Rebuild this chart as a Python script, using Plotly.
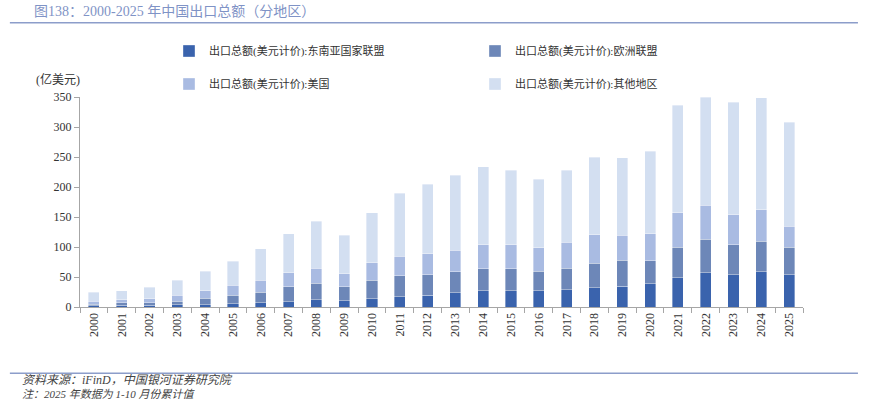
import plotly.graph_objects as go

years = [str(y) for y in range(2000, 2026)]
asean = [1.7, 2.8, 2.8, 3.4, 3.4, 5.6, 7.3, 9.0, 12.3, 10.3, 13.4, 16.7, 20.0, 24.0, 26.7, 26.7, 26.7, 28.4, 32.3, 35.0, 38.4, 48.4, 56.7, 53.4, 59.0, 53.4]
eu = [2.8, 3.9, 3.9, 6.6, 11.6, 14.4, 17.7, 24.4, 27.7, 23.1, 31.6, 35.0, 33.4, 34.4, 36.7, 36.7, 33.3, 36.6, 41.0, 43.3, 38.3, 51.6, 56.1, 50.0, 51.0, 46.6]
usa = [5.5, 5.0, 7.3, 9.5, 11.7, 16.0, 20.0, 23.3, 25.0, 22.2, 28.4, 33.3, 35.0, 36.6, 40.0, 40.0, 39.0, 42.8, 47.3, 41.7, 45.5, 56.7, 57.2, 50.6, 51.7, 35.0]
other = [15.0, 15.6, 18.8, 25.0, 32.8, 40.0, 51.7, 65.0, 77.8, 64.4, 83.6, 104.5, 116.1, 125.0, 130.0, 124.6, 114.0, 120.2, 128.9, 129.0, 137.3, 179.3, 180.0, 187.0, 187.3, 172.8]

names = ["出口总额(美元计价):东南亚国家联盟", "出口总额(美元计价):欧洲联盟",
         "出口总额(美元计价):美国", "出口总额(美元计价):其他地区"]
colors = ["#3a63ad", "#6d87b8", "#a9bbe2", "#d3dff1"]
legend_ids = ["legend", "legend2", "legend3", "legend4"]
W, H = 872, 402
legend_pos = [(169, 51), (475, 51), (169, 84), (475, 84)]

fig = go.Figure()
for vals, nm, c, lg in zip([asean, eu, usa, other], names, colors, legend_ids):
    fig.add_trace(go.Bar(x=years, y=vals, name=nm,
                         marker=dict(color=c, line=dict(color="rgba(255,255,255,0.6)", width=0.6)),
                         legend=lg))

font_main = "Liberation Serif, Noto Sans CJK SC, serif"
layout_legends = {}
for lg, (px, py) in zip(legend_ids, legend_pos):
    layout_legends[lg] = dict(xref="container", yref="container", x=px / W, y=1 - py / H,
                              xanchor="left", yanchor="middle", orientation="h",
                              font=dict(size=11, color="#333333", family=font_main),
                              itemwidth=30, bgcolor="rgba(0,0,0,0)")

fig.update_layout(
    width=W, height=H,
    barmode="stack", bargap=0.6,
    plot_bgcolor="white", paper_bgcolor="white",
    margin=dict(l=80, r=69, t=97, b=95, autoexpand=False),
    font=dict(family=font_main, size=12, color="#333333"),
    showlegend=True,
    xaxis=dict(type="category", tickangle=-90, showline=True, linecolor="#a6a6a6", linewidth=1.2,
               ticks="outside", ticklen=5, tickcolor="#a6a6a6", tickson="boundaries",
               showgrid=False, tickfont=dict(size=12, color="#333333")),
    yaxis=dict(range=[0, 350], dtick=50, showline=True, linecolor="#a6a6a6", linewidth=1.2,
               ticks="outside", ticklen=5, tickcolor="#a6a6a6", showgrid=False, zeroline=False,
               tickfont=dict(size=12, color="#333333")),
    **layout_legends,
)

fig.add_annotation(text="图138：2000-2025 年中国出口总额（分地区）", xref="paper", yref="paper",
                   x=-0.066, y=1.4095, xanchor="left", yanchor="middle", showarrow=False,
                   font=dict(size=14, color="#7f93c6", family=font_main))
fig.add_shape(type="line", xref="paper", yref="paper", x0=-0.097, x1=1.076, y0=1.354, y1=1.354,
              line=dict(color="#8c9dca", width=1.5))
fig.add_annotation(text="(亿美元)", xref="paper", yref="paper", x=-0.030, y=1.081,
                   xanchor="center", yanchor="middle", showarrow=False, font=dict(size=12, color="#333333"))
fig.add_shape(type="line", xref="paper", yref="paper", x0=-0.097, x1=1.076, y0=-0.316, y1=-0.316,
              line=dict(color="#8c9dca", width=1.5))
fig.add_annotation(text="<i>资料来源：iFinD，中国银河证券研究院</i>", xref="paper", yref="paper",
                   x=-0.083, y=-0.348, xanchor="left", yanchor="middle", showarrow=False,
                   font=dict(size=12, color="#444444"))
fig.add_annotation(text="<i>注：2025 年数据为 1-10 月份累计值</i>", xref="paper", yref="paper",
                   x=-0.083, y=-0.412, xanchor="left", yanchor="middle", showarrow=False,
                   font=dict(size=11, color="#444444"))

fig.write_html("out.html", config={"displayModeBar": False},
               post_script="document.body.style.margin='0';")
